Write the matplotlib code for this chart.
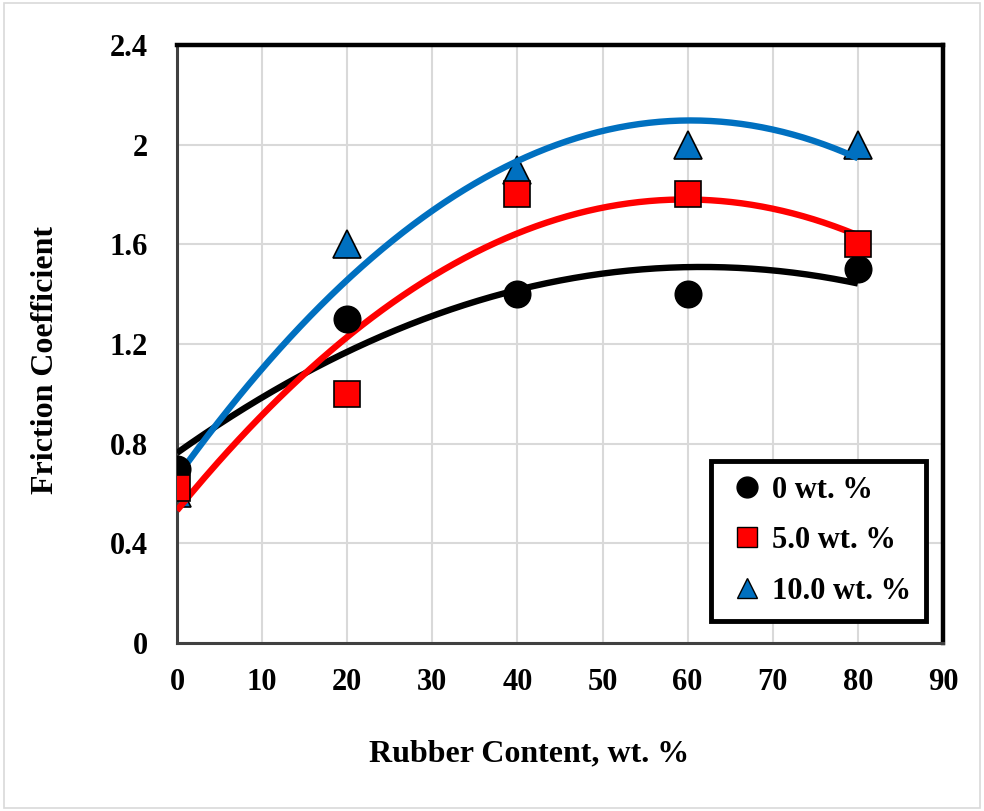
import numpy as np
import matplotlib
matplotlib.use("Agg")
import matplotlib.pyplot as plt
from matplotlib.patches import Rectangle

rubber = [0, 20, 40, 60, 80]
s0 = [0.70, 1.30, 1.40, 1.40, 1.50]
s5 = [0.62, 1.00, 1.80, 1.80, 1.60]
s10 = [0.60, 1.60, 1.90, 2.00, 2.00]
labels = ["0 wt. %", "5.0 wt. %", "10.0 wt. %"]
xticks = [0, 10, 20, 30, 40, 50, 60, 70, 80, 90]
yticks = [0, 0.4, 0.8, 1.2, 1.6, 2.0, 2.4]
yticklabels = ["0", "0.4", "0.8", "1.2", "1.6", "2", "2.4"]

plt.rcParams['font.family'] = ['Liberation Serif', 'DejaVu Serif']
plt.rcParams['font.weight'] = 'bold'

FS = 22

fig = plt.figure(figsize=(9.84, 8.11), dpi=100)
fig.patches.append(Rectangle((0.004, 0.004), 0.992, 0.992, transform=fig.transFigure,
                             fill=False, edgecolor='#d9d9d9', linewidth=1.2))
ax = fig.add_axes([0.1799, 0.2072, 0.9583 - 0.1799, 0.9445 - 0.2072])

series = [
    (s0, 'black', 'o', 'black'),
    (s5, '#ff0000', 's', '#ff0000'),
    (s10, '#0070c0', '^', '#0070c0'),
]
xs = np.linspace(0, 80, 200)
for (ys, lc, mk, fc), lab in zip(series, labels):
    coef = np.polyfit(rubber, ys, 2)
    ax.plot(xs, np.polyval(coef, xs), color=lc, linewidth=4.6, zorder=3,
            solid_capstyle='butt')
    ax.plot(rubber, ys, linestyle='none', marker=mk, markersize=19 if mk != '^' else 20,
            markerfacecolor=fc, markeredgecolor='black', markeredgewidth=1.2,
            zorder=4 if mk != '^' else 2.5, label=lab)

ax.set_xlim(0, 90)
ax.set_ylim(0, 2.4)
ax.set_xticks(xticks)
ax.set_yticks(yticks)
ax.set_yticklabels(yticklabels)
ax.tick_params(axis='x', length=0, labelsize=FS, pad=18)
ax.tick_params(axis='y', length=0, labelsize=FS, pad=21)
for lab in ax.get_xticklabels() + ax.get_yticklabels():
    lab.set_fontweight('bold')
ax.grid(True, color='#d9d9d9', linewidth=1.5, zorder=0)
ax.set_axisbelow(True)

for side in ['top', 'right']:
    ax.spines[side].set_color('black')
    ax.spines[side].set_linewidth(3.2)
for side in ['left', 'bottom']:
    ax.spines[side].set_color('#404040')
    ax.spines[side].set_linewidth(2.2)

ax.set_xlabel("Rubber Content, wt. %", fontsize=23, fontweight='bold')
ax.set_ylabel("Friction Coefficient", fontsize=23, fontweight='bold')
ax.xaxis.set_label_coords(0.4595, -0.162)
ax.yaxis.set_label_coords(-0.153, 0.473)

leg_handles = []
for (ys, lc, mk, fc), lab in zip(series, labels):
    leg_handles.append(plt.Line2D([], [], linestyle='none', marker=mk, markersize=15,
                                  markerfacecolor=fc, markeredgecolor='black',
                                  markeredgewidth=1.0, label=lab))
leg = ax.legend(handles=leg_handles, loc='lower right', bbox_to_anchor=(0.978, 0.037),
                frameon=True, fancybox=False, handlelength=1.4,
                handletextpad=0.1, labelspacing=0.7, borderpad=0.5, borderaxespad=0,
                prop={'weight': 'bold', 'size': FS})
leg.get_frame().set_edgecolor('black')
leg.get_frame().set_linewidth(3.5)
leg.get_frame().set_alpha(1)
leg.set_zorder(10)

fig.savefig("out.png", dpi=100)
